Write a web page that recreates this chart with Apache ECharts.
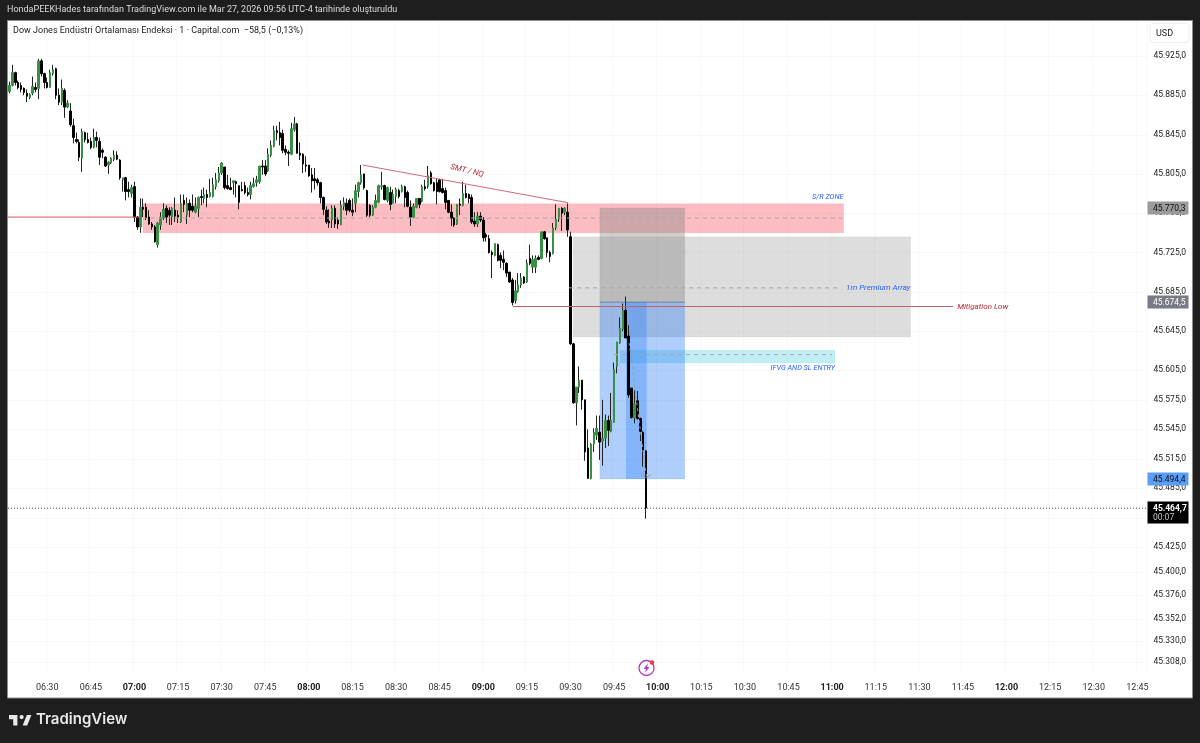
<!DOCTYPE html>
<html>
<head>
<meta charset="utf-8">
<title>Dow Jones 1m</title>
<style>
  html, body { margin: 0; padding: 0; background: #1e1e1e; }
  #chart { width: 1200px; height: 743px; }
</style>
</head>
<body>
<div id="chart"></div>
<script src="https://cdn.jsdelivr.net/npm/echarts@6/dist/echarts.min.js"></script>
<script>
// 1 minute bars, 06:17 to 09:56
const opens = [
  45889,45895,45908,45898,45895,45892,45887,45883,45887,45893,45892,45920,45907,45898,45893,45907,45912,45885,45878,45890,
  45873,45869,45854,45840,45837,45821,45847,45840,45838,45832,45842,45838,45829,45822,45814,45816,45820,45824,45819,45799,
  45801,45789,45785,45792,45761,45751,45771,45771,45761,45754,45751,45733,45753,45760,45770,45768,45761,45768,45763,45756,
  45778,45763,45775,45772,45766,45770,45782,45780,45784,45782,45782,45792,45798,45806,45812,45793,45791,45796,45797,45793,
  45789,45793,45786,45784,45792,45796,45797,45813,45813,45808,45824,45833,45849,45847,45846,45830,45827,45825,45850,45856,
  45826,45825,45814,45814,45804,45800,45799,45796,45781,45768,45757,45758,45770,45758,45753,45772,45775,45778,45768,45775,
  45787,45796,45805,45788,45773,45763,45771,45776,45792,45793,45778,45786,45775,45782,45788,45787,45792,45786,45771,45761,
  45771,45780,45777,45792,45792,45806,45796,45796,45799,45790,45788,45778,45766,45760,45754,45774,45773,45785,45784,45781,
  45757,45754,45762,45758,45743,45739,45725,45722,45733,45722,45718,45714,45705,45697,45676,45685,45692,45700,45695,45719,
  45710,45710,45720,45719,45746,45740,45725,45724,45750,45759,45770,45766,45766,45741,45632,45572,45588,45595,45575,45526,
  45495,45530,45539,45542,45533,45536,45554,45543,45552,45609,45633,45647,45666,45640,45587,45557,45574,45556,45542,45523
];
const closes = [
  45895,45908,45898,45893,45891,45888,45884,45886,45894,45891,45920,45907,45898,45893,45908,45911,45885,45878,45892,45873,
  45877,45855,45842,45838,45822,45848,45840,45837,45832,45842,45839,45822,45827,45813,45817,45821,45824,45820,45801,45801,
  45787,45787,45791,45761,45751,45771,45769,45760,45754,45751,45736,45755,45761,45769,45761,45763,45770,45762,45761,45775,
  45774,45775,45768,45768,45772,45781,45781,45784,45781,45786,45794,45799,45806,45816,45791,45790,45789,45798,45795,45776,
  45788,45786,45784,45793,45795,45799,45813,45812,45805,45825,45834,45849,45847,45842,45829,45827,45826,45851,45856,45826,
  45824,45815,45813,45803,45798,45798,45796,45781,45769,45756,45755,45770,45754,45754,45773,45776,45768,45768,45766,45788,
  45796,45804,45791,45763,45763,45771,45778,45793,45793,45779,45791,45774,45784,45789,45782,45792,45781,45772,45761,45772,
  45780,45774,45792,45790,45803,45795,45788,45787,45787,45786,45776,45766,45760,45753,45774,45773,45785,45781,45780,45756,
  45754,45762,45758,45740,45741,45725,45723,45734,45717,45717,45715,45704,45695,45674,45686,45692,45699,45694,45714,45714,
  45718,45719,45718,45746,45739,45725,45721,45750,45759,45770,45765,45770,45748,45632,45572,45588,45595,45575,45522,45495,
  45530,45542,45546,45532,45536,45554,45544,45554,45606,45634,45648,45666,45638,45580,45557,45571,45556,45543,45524,45465
];
const highs = [
  45899,45916,45909,45900,45898,45893,45891,45887,45904,45898,45922,45922,45908,45903,45911,45916,45913,45892,45901,45892,
  45880,45877,45861,45847,45840,45851,45848,45847,45842,45851,45848,45842,45831,45823,45818,45822,45829,45828,45820,45801,
  45802,45797,45794,45797,45762,45780,45780,45775,45768,45756,45753,45756,45766,45775,45773,45771,45771,45781,45768,45784,
  45784,45781,45779,45784,45781,45782,45789,45791,45789,45800,45801,45806,45812,45817,45812,45804,45801,45798,45798,45793,
  45797,45797,45791,45797,45801,45803,45813,45819,45819,45831,45839,45854,45854,45858,45850,45834,45829,45857,45863,45857,
  45837,45826,45823,45814,45811,45811,45801,45797,45782,45772,45769,45773,45773,45761,45778,45781,45780,45780,45780,45794,
  45797,45814,45805,45789,45774,45773,45784,45794,45807,45794,45792,45792,45789,45791,45790,45794,45793,45788,45778,45775,
  45780,45780,45794,45799,45813,45808,45797,45800,45800,45800,45791,45778,45774,45761,45774,45780,45797,45794,45785,45784,
  45766,45766,45766,45761,45745,45743,45727,45734,45734,45725,45727,45715,45705,45699,45697,45704,45704,45701,45718,45733,
  45722,45722,45722,45746,45747,45740,45727,45755,45774,45770,45771,45771,45775,45746,45633,45588,45609,45595,45575,45545,
  45531,45546,45559,45559,45575,45560,45559,45582,45613,45634,45659,45673,45680,45651,45587,45585,45584,45557,45543,45524
];
const lows = [
  45887,45894,45895,45891,45888,45885,45878,45881,45885,45888,45881,45904,45892,45892,45893,45905,45881,45875,45875,45862,
  45872,45853,45836,45836,45818,45807,45837,45836,45830,45831,45832,45814,45821,45812,45805,45815,45818,45819,45799,45787,
  45778,45781,45781,45756,45748,45745,45761,45758,45753,45748,45735,45730,45748,45758,45755,45753,45753,45756,45755,45755,
  45766,45754,45761,45766,45765,45761,45773,45775,45771,45781,45781,45789,45796,45804,45789,45789,45789,45784,45781,45769,
  45787,45784,45782,45779,45791,45792,45795,45804,45803,45807,45822,45832,45839,45834,45826,45824,45813,45824,45848,45826,
  45819,45806,45807,45802,45786,45789,45793,45775,45763,45754,45750,45750,45750,45749,45753,45768,45763,45766,45762,45766,
  45781,45794,45789,45761,45761,45762,45770,45775,45789,45778,45776,45768,45775,45775,45780,45786,45771,45771,45752,45760,
  45770,45770,45776,45788,45790,45794,45787,45774,45786,45785,45769,45765,45752,45751,45753,45763,45772,45780,45775,45754,
  45751,45751,45756,45736,45736,45724,45699,45721,45716,45709,45707,45700,45694,45671,45673,45684,45689,45693,45694,45712,
  45704,45704,45717,45718,45738,45720,45715,45723,45748,45756,45747,45763,45741,45631,45571,45549,45582,45565,45513,45495,
  45494,45522,45534,45514,45508,45526,45528,45542,45552,45602,45632,45645,45638,45577,45556,45551,45555,45533,45507,45454
];

// axis text
const priceTicks = [45925,45885,45845,45805,45765,45725,45685,45645,45605,45575,45545,45515,45485,45455,45425,45400,45376,45352,45330,45308];
const timeLabels = ['06:30','06:45','07:00','07:15','07:30','07:45','08:00','08:15','08:30','08:45','09:00','09:15','09:30','09:45',
  '10:00','10:15','10:30','10:45','11:00','11:15','11:30','11:45','12:00','12:15','12:30','12:45'];

// drawings, x is a bar number, prices for the rest: [x0, x1, top, bottom]
const srZone = [45.9, 286.9, 45774.5, 45745];
const premiumZone = [193.9, 310, 45741, 45639];
const fvgZone = [210, 284, 45625.5, 45612.5];
const shortBox = [203.1, 232.3, 45770.3, 45674.5];
const longBox = [203.1, 232.3, 45674.5, 45494.4];
const elapsedBox = [212.1, 219.2, 45674.5, 45494.4];

// levels: [x0, x1, price]
const leftLevel = [-0.5, 44.9, 45761];
const srMid = [45.9, 286.5, 45760];
const premiumMid = [192.5, 286, 45689];
const fvgMid = [208, 283, 45621];
const mitigationLow = [173.2, 324.6, 45670];
const boxEdge = [203.1, 232.3, 45674.5];
const lastPrice = [-0.5, 391.5, 45464.7];

// smt trend line and the faded path drawn inside the box: [x, price] pairs
const smtLine = [[121.5, 45814], [192.1, 45775.7]];
const pathLine = [[213.1, 45633], [214.3, 45612], [215.1, 45588], [219.1, 45497]];
const pathArrow = [[217.6, 45499], [219.1, 45495.5], [220.6, 45499]];

// [text, x, price]
const notes = [
  ['S/R ZONE', 286.9, 45781],
  ['1m Premium Array', 287.8, 45689],
  ['Mitigation Low', 326, 45670],
  ['IFVG AND SL ENTRY', 284, 45607],
  ['SMT / NQ', 157.4, 45808]
];

// [price, caption]
const priceTags = [
  [45770.3, ''],
  [45674.5, ''],
  [45494.4, ''],
  [45464.7, '00:07']
];

const FONT = 'Roboto, "Noto Sans", sans-serif';
const BAR_W = 2.907;
const firstMinute = 6 * 60 + 17;
const categories = [];
for (let i = 0; i < 392; i++) {
  const m = firstMinute + i;
  categories.push(`0${Math.floor(m / 60)}`.slice(-2) + ':' + `0${m % 60}`.slice(-2));
}

const fmtPrice = (v) => v.toFixed(1).replace('.', ',').replace(/^(\d\d)(\d{3})/, '$1.$2');

const zones = [srZone, premiumZone, fvgZone, shortBox, longBox, elapsedBox];
const zoneStyles = [
  { fill: 'rgba(242,54,69,0.33)', stroke: 'rgba(242,54,69,0.12)' },
  { fill: 'rgba(128,128,128,0.27)', stroke: 'rgba(128,128,128,0.06)' },
  { fill: 'rgba(0,188,212,0.25)', stroke: 'rgba(0,188,212,0.05)' },
  { fill: 'rgba(128,128,128,0.38)', stroke: 'rgba(128,128,128,0.1)' },
  { fill: 'rgba(33,120,245,0.36)', stroke: 'rgba(33,120,245,0.1)' },
  { fill: 'rgba(33,120,245,0.3)', stroke: 'rgba(33,120,245,0)' }
];
const noteStyles = [
  { color: '#2962ff', align: 'right', size: 7.3 },
  { color: '#2962ff', align: 'left', size: 8 },
  { color: '#b22833', align: 'left', size: 8 },
  { color: '#2962ff', align: 'right', size: 7.3 },
  { color: '#b22833', align: 'center', size: 8, rotation: -0.24 }
];
const tagStyles = [
  { bg: '#9b9b9b', color: '#111' },
  { bg: '#787b86', color: '#fff' },
  { bg: '#5b9cf6', color: '#111' },
  { bg: '#000', color: '#fff' }
];

const levelSeries = (level, color, width, type) => ({
  type: 'line', xAxisIndex: 1, z: 6, silent: true, showSymbol: false, symbol: 'none', clip: false,
  data: [[level[0], level[2]], [level[1], level[2]]],
  lineStyle: { color, width, type }
});
const pathSeries = (points, color, width, type) => ({
  type: 'line', xAxisIndex: 1, z: 6, silent: true, showSymbol: false, symbol: 'none',
  data: points,
  lineStyle: { color, width, type }
});

const chart = echarts.init(document.getElementById('chart'), null, { renderer: 'canvas' });

chart.setOption({
  animation: false,
  backgroundColor: '#1e1e1e',
  title: [
    { text: 'HondaPEEKHades tarafından TradingView.com ile Mar 27, 2026 09:56 UTC-4 tarihinde oluşturuldu', left: 7, top: 5, padding: 0,
      textStyle: { color: '#dcdcdc', fontFamily: FONT, fontSize: 9, fontWeight: 'normal' } },
    { text: 'Dow Jones Endüstri Ortalaması Endeksi · 1 · Capital.com  −58,5 (−0,13%)', left: 13, top: 26, padding: 0,
      textStyle: { color: '#222', fontFamily: FONT, fontSize: 9, fontWeight: 'normal' } },
    { text: 'TradingView', left: 36, top: 712, padding: 0,
      textStyle: { color: '#e8e8e8', fontFamily: '"Inter", "Noto Sans", sans-serif', fontSize: 15, fontWeight: 600 } }
  ],
  graphic: [
    { type: 'rect', z: -10, shape: { x: 7.5, y: 20.5, width: 1185, height: 677.5 }, style: { fill: '#fff', stroke: '#8c8c8c', lineWidth: 1 } },
    { type: 'rect', z: 1, shape: { x: 1150, y: 23.5, width: 39, height: 19, r: 3 }, style: { fill: '#fff', stroke: '#eeeeee', lineWidth: 1 } },
    { type: 'text', z: 2, style: { x: 1156, y: 29, text: 'USD', fill: '#222', font: `9px ${FONT}` } },
    { type: 'polygon', z: 2, shape: { points: [[9, 715], [17.4, 715], [17.4, 725.5], [13.2, 725.5], [13.2, 719.2], [9, 719.2]] }, style: { fill: '#e8e8e8' } },
    { type: 'circle', z: 2, shape: { cx: 21.6, cy: 717.1, r: 2.1 }, style: { fill: '#e8e8e8' } },
    { type: 'polygon', z: 2, shape: { points: [[27.2, 725.5], [22.65, 725.5], [26.85, 715], [31.4, 715]] }, style: { fill: '#e8e8e8' } },
    { type: 'circle', z: 2, shape: { cx: 646.5, cy: 668, r: 7.5 }, style: { fill: '#fff', stroke: '#a93fc4', lineWidth: 1.3 } },
    { type: 'polygon', z: 3, shape: { points: [[648, 663], [643.5, 669], [646, 669], [645, 673], [649.5, 667], [647, 667]] }, style: { fill: '#a93fc4' } },
    { type: 'circle', z: 3, shape: { cx: 652, cy: 662.5, r: 2.2 }, style: { fill: '#f23645' } }
  ],
  grid: { left: 8, top: 21, width: 392 * BAR_W, height: 651, containLabel: false },
  xAxis: [
    {
      type: 'category', data: categories, boundaryGap: true,
      axisLine: { show: false }, axisTick: { show: false },
      splitLine: { show: true, interval: (i, v) => timeLabels.includes(v), lineStyle: { color: '#f8f8f8', width: 1 } },
      axisLabel: {
        interval: (i, v) => timeLabels.includes(v),
        margin: 11, color: '#333', fontFamily: FONT, fontSize: 9,
        formatter: (v) => (v.endsWith(':00') ? `{hour|${v}}` : v),
        rich: { hour: { fontWeight: 'bold', color: '#222', fontFamily: FONT, fontSize: 9 } }
      }
    },
    { type: 'value', min: -0.5, max: 391.5, show: false }
  ],
  yAxis: {
    type: 'value', position: 'right', min: 45298, max: 45960.6, scale: true,
    axisLine: { show: false }, axisTick: { show: false }, splitLine: { show: false },
    axisLabel: { customValues: priceTicks, formatter: fmtPrice, margin: 6, padding: [3, 0, 0, 0], color: '#222', fontFamily: FONT, fontSize: 8.5 }
  },
  series: [
    // price grid
    {
      type: 'custom', xAxisIndex: 1, z: 1, silent: true,
      data: priceTicks.map((p) => [p]),
      encode: { y: 0 },
      renderItem: (params, api) => {
        const y = Math.round(api.coord([0, api.value(0)])[1]) + 0.5;
        return { type: 'line', shape: { x1: params.coordSys.x, y1: y, x2: params.coordSys.x + params.coordSys.width, y2: y }, style: { stroke: '#f8f8f8', lineWidth: 1 } };
      }
    },
    // boxes
    {
      type: 'custom', xAxisIndex: 1, z: 2, silent: true,
      data: zones,
      encode: { x: [0, 1], y: [2, 3] },
      renderItem: (params, api) => {
        const a = api.coord([api.value(0), api.value(2)]);
        const b = api.coord([api.value(1), api.value(3)]);
        const s = zoneStyles[params.dataIndex];
        return { type: 'rect', shape: { x: a[0], y: a[1], width: b[0] - a[0], height: b[1] - a[1] }, style: { fill: s.fill, stroke: s.stroke, lineWidth: 1 } };
      }
    },
    // wicks, then bodies on top so that green bars keep a dark wick
    {
      name: 'wicks', type: 'candlestick', z: 4, barWidth: 1, silent: true,
      data: opens.map((o, i) => [lows[i], lows[i], lows[i], highs[i]]),
      itemStyle: { color: '#222', color0: '#222', borderColor: '#222', borderColor0: '#222', borderWidth: 1 }
    },
    {
      name: 'Dow Jones', type: 'candlestick', z: 5, barWidth: 2, silent: true,
      data: opens.map((o, i) => [o, closes[i], Math.min(o, closes[i]), Math.max(o, closes[i])]),
      itemStyle: { color: '#3a8f46', color0: '#000', borderColor: '#3a8f46', borderColor0: '#000', borderWidth: 1 }
    },
    levelSeries(leftLevel, '#d5565f', 1, 'solid'),
    levelSeries(srMid, '#aaaaaa', 1, [4, 4]),
    levelSeries(premiumMid, '#a8a8a8', 1, [4, 4]),
    levelSeries(fvgMid, '#a8a8a8', 1, [4, 4]),
    levelSeries(boxEdge, 'rgba(90,90,90,0.45)', 1, 'solid'),
    levelSeries(mitigationLow, '#c4606c', 1, 'solid'),
    levelSeries(lastPrice, '#444', 1, [1, 2]),
    pathSeries(smtLine, '#cf6a73', 1, 'solid'),
    pathSeries(pathLine, '#9a9a9a', 1, [3, 3]),
    pathSeries(pathArrow, '#9a9a9a', 1, 'solid'),
    // drawing captions
    {
      type: 'custom', xAxisIndex: 1, z: 7, silent: true,
      data: notes.map((n) => [n[1], n[2]]),
      encode: { x: 0, y: 1 },
      renderItem: (params, api) => {
        const p = api.coord([api.value(0), api.value(1)]);
        const s = noteStyles[params.dataIndex];
        return {
          type: 'text', x: p[0], y: p[1], rotation: s.rotation || 0,
          style: { text: notes[params.dataIndex][0], fill: s.color, align: s.align, verticalAlign: 'middle', font: `italic ${s.size}px ${FONT}` }
        };
      }
    },
    // price tags on the scale
    {
      type: 'custom', xAxisIndex: 1, z: 8, silent: true,
      data: priceTags.map((t) => [t[0]]),
      encode: { y: 0 },
      renderItem: (params, api) => {
        const y = Math.round(api.coord([0, api.value(0)])[1]);
        const s = tagStyles[params.dataIndex];
        const caption = priceTags[params.dataIndex][1];
        const x = 1147.5;
        const children = [
          { type: 'rect', shape: { x, y: y - 6.5, width: 41, height: caption ? 22 : 13 }, style: { fill: s.bg } },
          { type: 'text', x: x + 5.5, y: y + 0.5, style: { text: fmtPrice(api.value(0)), fill: s.color, verticalAlign: 'middle', font: `${caption ? 'bold ' : ''}8.5px ${FONT}` } }
        ];
        if (caption) {
          children.push({ type: 'text', x: x + 5.5, y: y + 10, style: { text: caption, fill: '#c8c8c8', verticalAlign: 'middle', font: `8.5px ${FONT}` } });
        }
        return { type: 'group', children };
      }
    }
  ]
});
</script>
</body>
</html>
